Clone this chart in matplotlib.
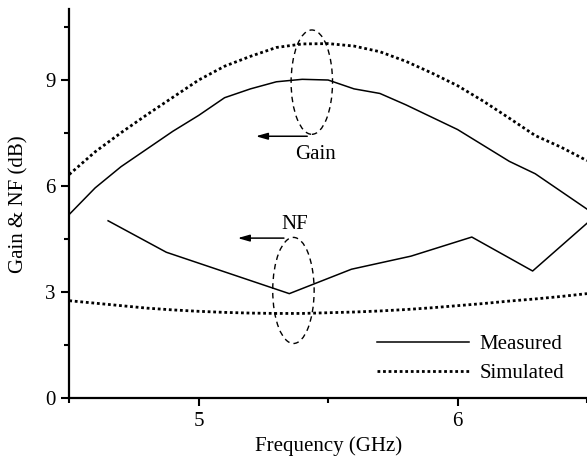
import matplotlib
matplotlib.use("Agg")
import matplotlib.pyplot as plt
from matplotlib.patches import Ellipse
import numpy as np

plt.rcParams['font.family'] = ['Liberation Serif', 'DejaVu Serif']
plt.rcParams['mathtext.fontset'] = 'stix'

# frequency grid (GHz) for gain curves and simulated NF
freq = [4.5, 4.6, 4.7, 4.8, 4.9, 5.0, 5.1, 5.2, 5.3, 5.4, 5.5,
        5.6, 5.7, 5.8, 5.9, 6.0, 6.1, 6.2, 6.3, 6.4, 6.5]

gain_meas = [5.2, 5.95, 6.55, 7.05, 7.55, 8.0, 8.5, 8.75, 8.95, 9.02, 9.0,
             8.75, 8.62, 8.3, 7.95, 7.6, 7.15, 6.7, 6.35, 5.85, 5.35]
gain_sim = [6.33, 6.97, 7.51, 8.02, 8.51, 9.0, 9.39, 9.67, 9.92, 10.02, 10.03,
            9.96, 9.8, 9.53, 9.2, 8.84, 8.4, 7.92, 7.43, 7.1, 6.72]
nf_sim = [2.76, 2.69, 2.62, 2.55, 2.5, 2.46, 2.43, 2.41, 2.4, 2.4, 2.42,
          2.44, 2.47, 2.51, 2.56, 2.62, 2.68, 2.75, 2.81, 2.88, 2.96]

# measured NF points
nf_freq = [4.65, 4.875, 5.35, 5.59, 5.82, 6.055, 6.29, 6.5]
nf_meas = [5.02, 4.13, 2.96, 3.65, 4.02, 4.56, 3.6, 4.95]

fig = plt.figure(figsize=(5.87, 4.69), dpi=100)
ax = fig.add_axes([0.118, 0.1507, 0.882, 0.8295])

dot = (0, (1, 1))
ax.plot(freq, gain_meas, color='black', lw=1.1, label='Measured')
ax.plot(freq, gain_sim, color='black', lw=2.0, ls=dot, label='Simulated')
ax.plot(nf_freq, nf_meas, color='black', lw=1.1)
ax.plot(freq, nf_sim, color='black', lw=2.0, ls=dot)

# ellipses + arrows marking the curve groups
ax.add_patch(Ellipse((5.437, 8.94), 0.16, 2.95, fill=False, ls=(0, (4, 3)), lw=1.0, color='black'))
ax.add_patch(Ellipse((5.366, 3.05), 0.16, 3.0, fill=False, ls=(0, (4, 3)), lw=1.0, color='black'))
ax.annotate('', xy=(5.21, 7.41), xytext=(5.43, 7.41),
            arrowprops=dict(arrowstyle='-|>,head_length=0.7,head_width=0.2', color='black', lw=1.1, mutation_scale=10))
ax.annotate('', xy=(5.14, 4.53), xytext=(5.34, 4.53),
            arrowprops=dict(arrowstyle='-|>,head_length=0.7,head_width=0.2', color='black', lw=1.1, mutation_scale=10))
ax.text(5.45, 6.89, 'Gain', fontsize=15, ha='center', va='center')
ax.text(5.37, 4.92, 'NF', fontsize=15, ha='center', va='center')

ax.set_xlim(4.5, 6.5)
ax.set_ylim(0, 11)
ax.set_xticks([5, 6])
ax.set_xticks([4.5, 5.5, 6.5], minor=True)
ax.set_yticks([0, 3, 6, 9])
ax.set_yticks([1.5, 4.5, 7.5, 10.5], minor=True)
ax.tick_params(which='major', direction='out', length=6, width=1.5, labelsize=15, pad=4)
ax.tick_params(which='minor', direction='out', length=3.5, width=1.5)
for s in ['top', 'right']:
    ax.spines[s].set_visible(False)
for s in ['left', 'bottom']:
    ax.spines[s].set_linewidth(1.6)

ax.set_xlabel('Frequency (GHz)', fontsize=15, labelpad=3.5)
ax.set_ylabel('Gain & NF (dB)', fontsize=15, labelpad=12)

ax.legend(loc='lower right', bbox_to_anchor=(0.992, -0.009), frameon=False, fontsize=15,
          handlelength=4.4, handletextpad=0.5, labelspacing=0.45)

fig.savefig('out.png', dpi=100)
